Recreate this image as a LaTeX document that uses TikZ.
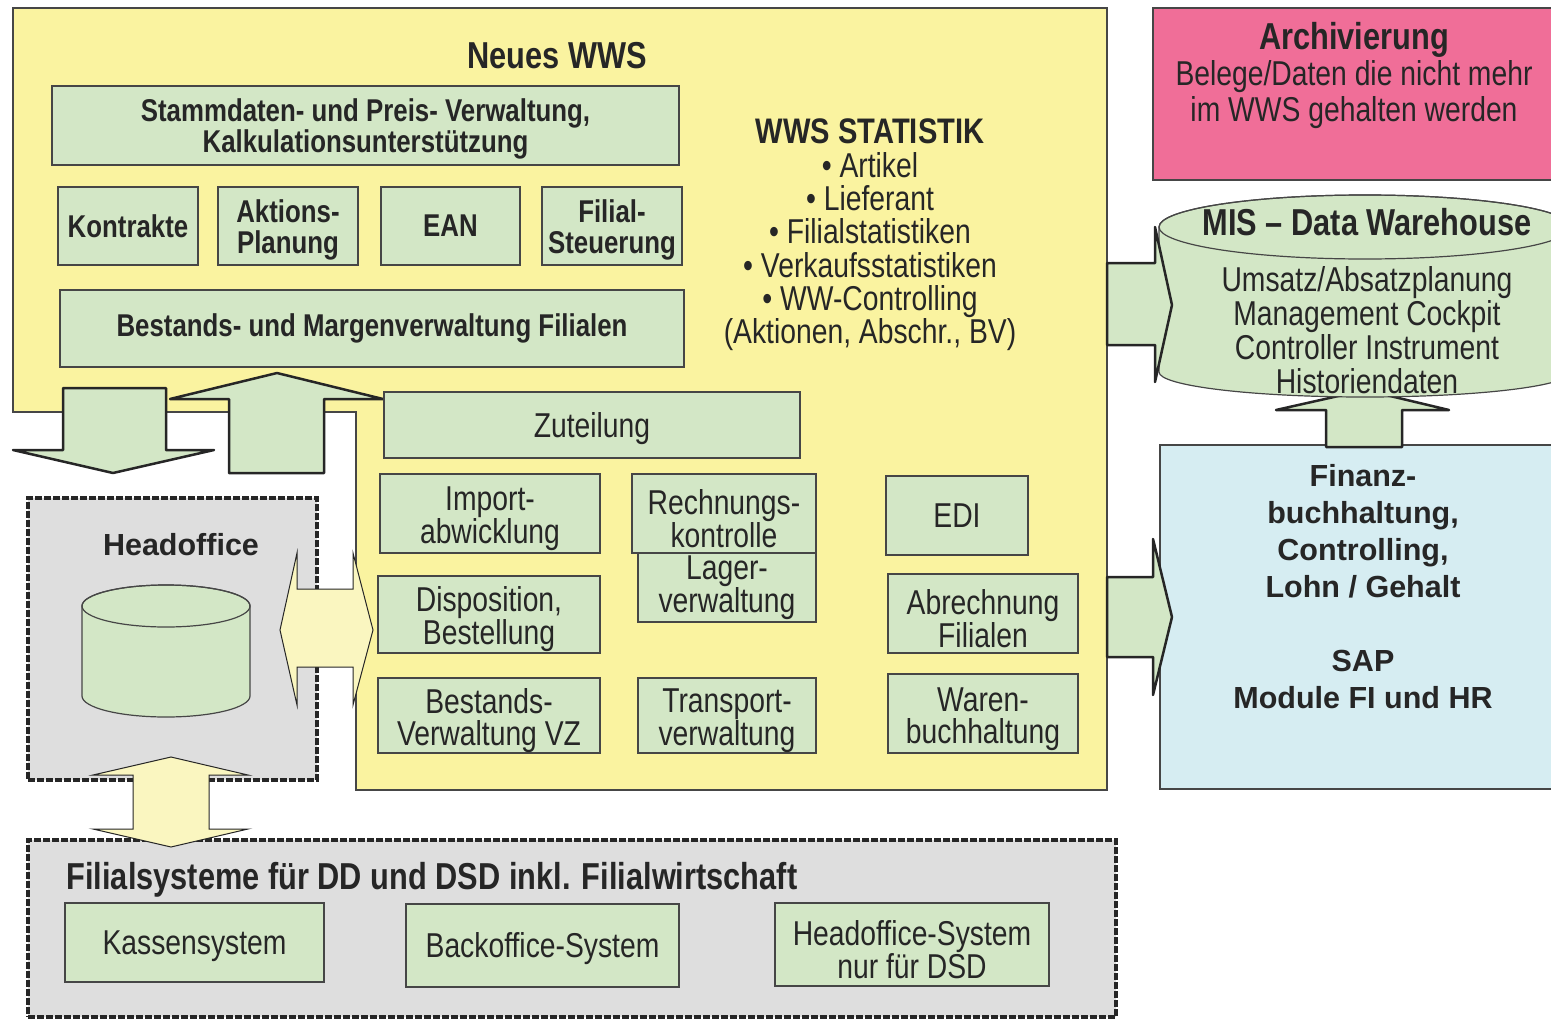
\documentclass[tikz,border=0pt]{standalone}
\usepackage{fontspec}
\setmainfont{Liberation Sans}
\newfontfamily\narrowfont[FakeStretch=0.82]{Liberation Sans}
\usepackage{xcolor}
\usepackage{tikz}

\definecolor{wwsyellow}{RGB}{250,243,160}
\definecolor{modulgreen}{RGB}{211,231,198}
\definecolor{archivpink}{RGB}{240,110,152}
\definecolor{sapblue}{RGB}{214,237,242}
\definecolor{framegrey}{RGB}{222,222,222}
\definecolor{paleyellow}{RGB}{250,246,192}
\definecolor{inkgrey}{RGB}{38,38,38}
\definecolor{linegrey}{RGB}{70,70,70}

\tikzset{
  modulbase/.style={draw=linegrey, fill=modulgreen, line width=1.2pt, inner sep=0pt, align=center,
    font=\narrowfont\fontsize{34.5}{32}\selectfont},
  modul/.style={modulbase, execute at begin node={\rule{0pt}{32pt}}},
  modulzwei/.style={modulbase, execute at begin node={\rule{0pt}{68pt}}},
  modulbold/.style={modulbase, font=\narrowfont\bfseries\fontsize{31.5}{31}\selectfont},
  modulboldzwei/.style={modulbold, execute at begin node={\rule{0pt}{61pt}}},
  dashframe/.style={draw=inkgrey, fill=framegrey, line width=4pt, dash pattern=on 7pt off 2pt, inner sep=0pt},
  greenarrow/.style={draw=inkgrey, fill=modulgreen, line width=2.5pt, line join=round},
  palearrow/.style={draw=inkgrey, fill=paleyellow, line width=1pt},
  plaintext/.style={align=center, font=\narrowfont\fontsize{34.5}{33}\selectfont},
  headtext/.style={align=center, font=\narrowfont\bfseries\fontsize{37.5}{36}\selectfont},
  widetext/.style={align=center, font=\bfseries\fontsize{30.5}{37}\selectfont},
}

\begin{document}
\begin{tikzpicture}[x=1pt, y=-1pt, every node/.append style={text=inkgrey}]
    \useasboundingbox (0,0) rectangle (1551,1020);
    \clip (0,0) rectangle (1551,1020);

        %%Neues WWS
        \draw[fill=wwsyellow, draw=linegrey, line width=1.2pt]
            (13,8) -- (1107,8) -- (1107,790) -- (356,790) -- (356,412) -- (13,412) -- cycle;
            \node[headtext] (wwstitle) at (557,56){Neues WWS};

        %%Archivierung und SAP
        \node[fill=archivpink, draw=linegrey, line width=1.2pt, minimum width=407pt, minimum height=172pt] (archiv) at (1356.5,94){};
            \node[plaintext, font=\narrowfont\fontsize{34.5}{36}\selectfont] (archivtxt) at (1354,75)
                {{\bfseries\fontsize{37.5}{36}\selectfont Archivierung}\\Belege/Daten die nicht mehr\\im WWS gehalten werden};
        \node[fill=sapblue, draw=linegrey, line width=1.2pt, minimum width=400pt, minimum height=344pt] (sap) at (1360,617){};
            \node[widetext] (saptxt) at (1363,587)
                {Finanz-\\buchhaltung,\\Controlling,\\Lohn / Gehalt\\[37pt]SAP\\Module FI und HR};

        %%MIS
        \draw[greenarrow] (1326,447) -- (1326,410) -- (1276,410) -- (1365,390) -- (1449,410) -- (1402,410) -- (1402,447) -- cycle;
        \draw[fill=modulgreen, draw=linegrey, line width=1.2pt]
            (1159,227) -- (1159,372) arc (180:360:206pt and 25pt) -- (1571,227) arc (0:180:206pt and 32pt) -- cycle;
        \draw[draw=linegrey, line width=1.2pt] (1365,227) ellipse (206pt and 32pt);
            \node[headtext] (mistitle) at (1367,222){MIS – Data Warehouse};
            \node[plaintext, font=\narrowfont\fontsize{34.5}{34}\selectfont] (mistxt) at (1367,330)
                {Umsatz/Absatzplanung\\Management Cockpit\\Controller Instrument\\Historiendaten};

        %%Headoffice
        \node[dashframe, minimum width=289pt, minimum height=282pt] (ho) at (172.5,639){};
            \node[widetext] (hotitle) at (181,545){Headoffice};
        \draw[fill=modulgreen, draw=linegrey, line width=1.2pt]
            (82,606) -- (82,696) arc (180:360:84pt and 21pt) -- (250,606) arc (0:180:84pt and 21pt) -- cycle;
        \draw[draw=linegrey, line width=1.2pt] (166,606) ellipse (84pt and 21pt);

        %%Filialsysteme
        \node[dashframe, minimum width=1088pt, minimum height=177pt] (fs) at (572,928.5){};
            \node[headtext, anchor=west] (fstitle) at (63,880){Filialsysteme für DD und DSD inkl. Filialwirtschaft};
        \node[modul, minimum width=259pt, minimum height=79pt] (kasse) at (194.5,942.5){Kassensystem};
        \node[modul, minimum width=273pt, minimum height=83pt] (backoffice) at (542.5,945.5){Backoffice-System};
        \node[modulzwei, minimum width=274pt, minimum height=83pt] (hosystem) at (912,944.5){Headoffice-System\\nur für DSD};

        %%Pfeile links
        \draw[greenarrow] (63,388) -- (166,388) -- (166,450) -- (214,450) -- (113,473) -- (13,450) -- (63,450) -- cycle;
        \draw[greenarrow] (229,473) -- (324,473) -- (324,399) -- (383,399) -- (277,373) -- (170,399) -- (229,399) -- cycle;
        \draw[palearrow] (280,630) -- (297,553) -- (297,589) -- (353,589) -- (353,553) -- (373,630)
            -- (353,705) -- (353,667) -- (297,667) -- (297,705) -- cycle;
        \draw[palearrow] (171,757) -- (248,775) -- (209,775) -- (209,829) -- (248,829) -- (171,847)
            -- (93,829) -- (133,829) -- (133,775) -- (93,775) -- cycle;

        %%Module oben
        \node[modulboldzwei, line width=2.5pt, minimum width=627pt, minimum height=79pt] (stamm) at (365.5,125.5)
            {Stammdaten- und Preis- Verwaltung,\\Kalkulationsunterstützung};
        \node[modulbold, minimum width=140pt, minimum height=78pt] (kontrakte) at (128,226){Kontrakte};
        \node[modulboldzwei, minimum width=140pt, minimum height=78pt] (aktion) at (288,226){Aktions-\\Planung};
        \node[modulbold, minimum width=139pt, minimum height=78pt] (ean) at (450.5,226){EAN};
        \node[modulboldzwei, minimum width=140pt, minimum height=78pt] (filsteuer) at (612,226){Filial-\\Steuerung};
        \node[modulbold, minimum width=624pt, minimum height=77pt] (bestfil) at (372,328.5)
            {Bestands- und Margenverwaltung Filialen};

        %%Statistik
        \node[plaintext, font=\narrowfont\fontsize{34.5}{33.3}\selectfont] (statistik) at (870,235)
            {{\bfseries\fontsize{35.5}{33.3}\selectfont WWS STATISTIK}\\• Artikel\\• Lieferant\\• Filialstatistiken\\
             • Verkaufsstatistiken\\• WW-Controlling\\(Aktionen, Abschr., BV)};

        %%Module unten
        \node[modul, minimum width=416pt, minimum height=66pt] (zuteilung) at (592,425){Zuteilung};
        \node[modulzwei, minimum width=220pt, minimum height=79pt] (import) at (490,513.5){Import-\\abwicklung};
        \node[modulbase, minimum width=178pt, minimum height=69pt] (lager) at (727,587.5){Lager-\\verwaltung};
        \node[modulzwei, minimum width=184pt, minimum height=79pt] (rechnung) at (724,513.5){Rechnungs-\\kontrolle};
        \node[modulbase, minimum width=142pt, minimum height=79pt] (edi) at (957,515.5){EDI};
        \node[modulzwei, minimum width=222pt, minimum height=77pt] (dispo) at (489,614.5){Disposition,\\Bestellung};
        \node[modulzwei, minimum width=190pt, minimum height=79pt] (abrechnung) at (983,613.5){Abrechnung\\Filialen};
        \node[modulzwei, minimum width=222pt, minimum height=75pt] (bestvz) at (489,715.5){Bestands-\\Verwaltung VZ};
        \node[modulzwei, minimum width=178pt, minimum height=75pt] (transport) at (727,715.5){Transport-\\verwaltung};
        \node[modulzwei, minimum width=190pt, minimum height=79pt] (waren) at (983,713.5){Waren-\\buchhaltung};

        %%Pfeile rechts
        \draw[greenarrow] (1107,263) -- (1155,263) -- (1155,227) -- (1172,305) -- (1155,382) -- (1155,345) -- (1107,345) -- cycle;
        \draw[greenarrow] (1107,577) -- (1153,577) -- (1153,539) -- (1172,617) -- (1153,695) -- (1153,657) -- (1107,657) -- cycle;
    \end{tikzpicture}
\end{document}
